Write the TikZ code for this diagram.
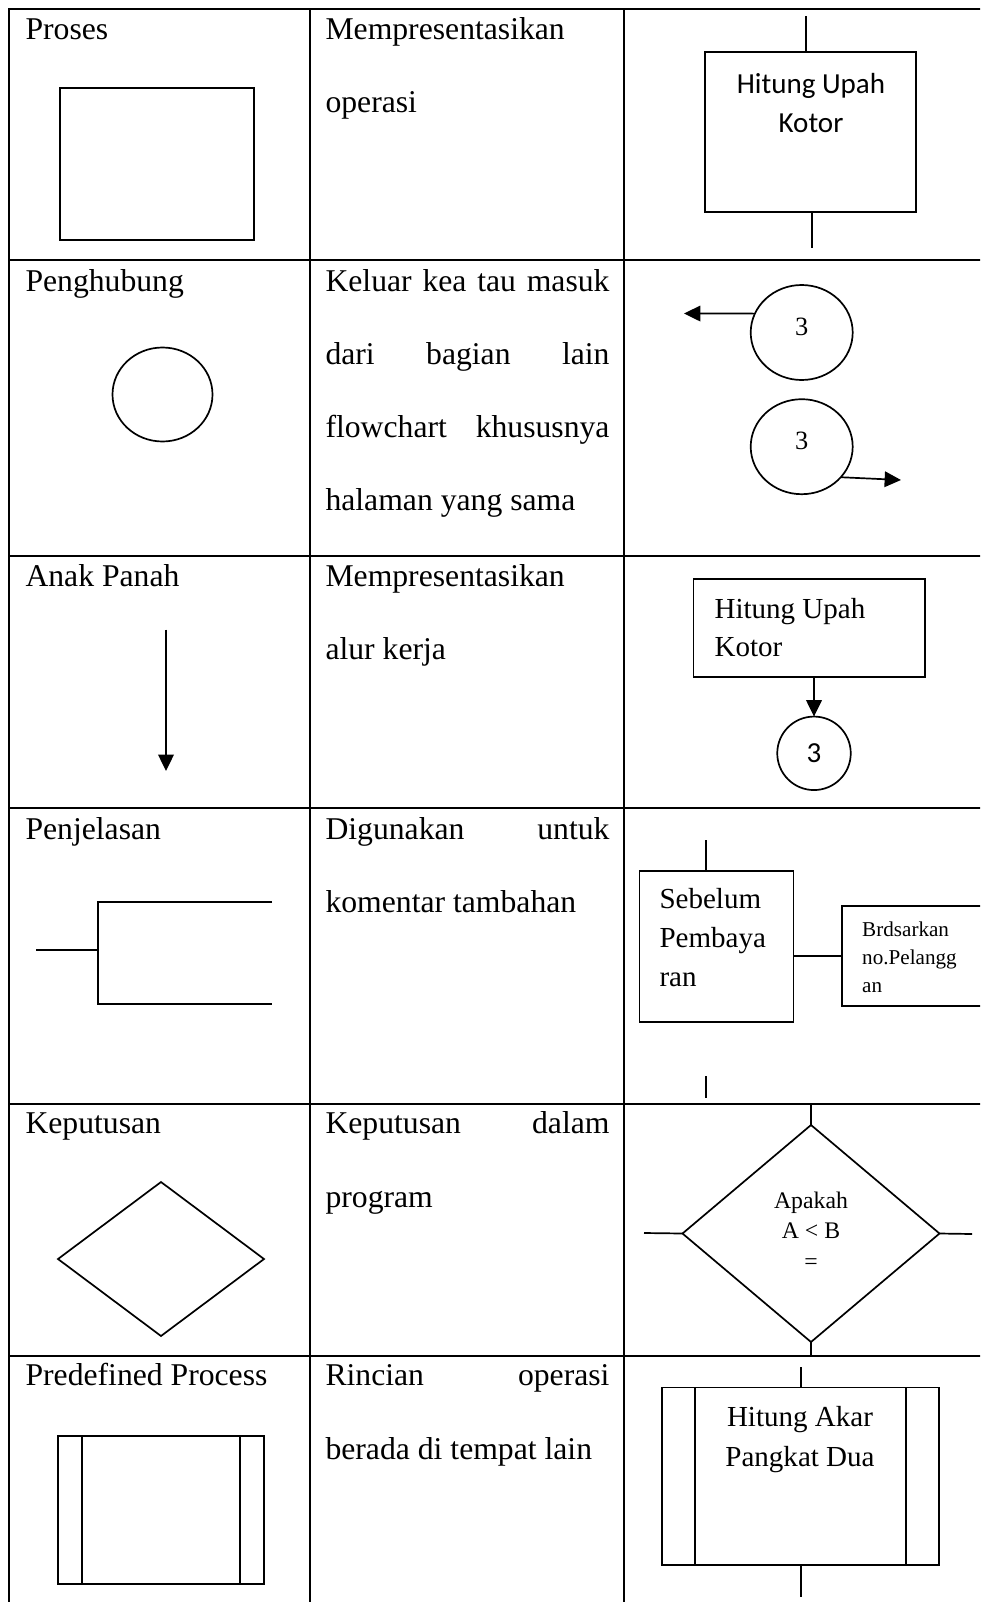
\documentclass[tikz,border=0pt]{standalone}
\usepackage{fontspec}
\setmainfont{Liberation Serif}
\newfontfamily\calibri{Carlito}
\usetikzlibrary{shapes.geometric, arrows.meta}
\newdimen\pxu
\pxu=0.3788pt

\begin{document}
\begin{tikzpicture}[
	x=0.3788pt, y=-0.3788pt,
	rule/.style={line width=2.7*\pxu, line cap=rect},
	symbol/.style={draw, line width=1.7*\pxu, inner sep=0pt, outer sep=0pt},
	link/.style={line width=1.7*\pxu},
	flow/.style={link, -{Triangle[length=6.2pt, width=5.9pt]}},
	celltext/.style={font=\fontsize{12}{14}\selectfont, inner sep=0pt, anchor=base west},
	boxtext/.style={inner sep=0pt, anchor=base},
	numtext/.style={font=\fontsize{10}{12}\selectfont, inner sep=0pt},
]
\useasboundingbox (0,0) rectangle (980,1602);
\clip (0,0) rectangle (980,1602);
% Justified line in the description column.
\def\fullline(#1)#2#3{
	\node[celltext] (#1) at (325,#2) {\makebox[284\pxu][s]{#3}};
}
\def\plainline(#1)#2#3{
	\node[celltext] (#1) at (325,#2) {#3};
}
% Input 1: width of the side bands.
\def\predefbox#1[#2](#3)#4{
	\node[symbol, rectangle, #2] (#3) at (#4) {};
	\draw[link] ([xshift=#1]#3.north west) -- ([xshift=#1]#3.south west);
	\draw[link] ([xshift=-#1]#3.north east) -- ([xshift=-#1]#3.south east);
}
	% table
	\foreach \y in {9,260,556,808,1104,1356}
		\draw[rule] (9,\y) -- (990,\y);
	\foreach \x in {9,310,624}
		\draw[rule] (\x,9) -- (\x,1610);

	\foreach \txt/\y [count=\i] in {Proses/39, Penghubung/291, Anak Panah/586,
		Penjelasan/839, Keputusan/1133, Predefined Process/1385}
		\node[celltext] (name\i) at (25,\y) {\txt};

	\plainline(descA1){39}{Mempresentasikan}
	\plainline(descA2){112}{operasi}
	\fullline(descB1){291}{Keluar kea tau masuk}
	\fullline(descB2){364}{dari bagian lain}
	\fullline(descB3){437}{flowchart khususnya}
	\plainline(descB4){510}{halaman yang sama}
	\plainline(descC1){586}{Mempresentasikan}
	\plainline(descC2){659}{alur kerja}
	\fullline(descD1){839}{Digunakan untuk}
	\plainline(descD2){912}{komentar tambahan}
	\fullline(descE1){1133}{Keputusan dalam}
	\plainline(descE2){1207}{program}
	\fullline(descF1){1385}{Rincian operasi}
	\plainline(descF2){1459}{berada di tempat lain}

	% Proses
	\node[symbol, minimum width=194*\pxu, minimum height=152*\pxu] (procbox) at (157,164) {};
	\node[symbol, minimum width=211*\pxu, minimum height=160*\pxu] (upahA) at (810.5,131.7) {};
	\node[boxtext, font=\calibri\fontsize{11}{14.8}\selectfont] (upahAtext) at (811,93)
		{\begin{tabular}[t]{@{}c@{}}Hitung Upah\\Kotor\end{tabular}};
	\coordinate (upahAin) at (806,16);
	\coordinate (upahAout) at (812,248);
	\draw[link] (upahAin) -- (upahAin |- upahA.north);
	\draw[link] (upahA.south -| upahAout) -- (upahAout);

	% Penghubung
	\node[symbol, ellipse, minimum width=100*\pxu, minimum height=94*\pxu] (penghub) at (162.5,394.5) {};
	\node[symbol, ellipse, minimum width=102*\pxu, minimum height=95*\pxu] (conA) at (801.7,332.5) {};
	\node[numtext] (conAnum) at ([yshift=6*\pxu]conA.center) {3};
	\node[symbol, ellipse, minimum width=102*\pxu, minimum height=95*\pxu] (conB) at (801.7,446.7) {};
	\node[numtext] (conBnum) at ([yshift=6*\pxu]conB.center) {3};
	\coordinate (exitA) at (684,313.5);
	\coordinate (exitB) at (901,480);
	\draw[flow] (conA.158) -- (exitA);
	\draw[flow] (conB.322) -- (exitB);

	% Anak Panah
	\coordinate (flowtop) at (166,629.5);
	\coordinate (flowbot) at (166,771);
	\draw[flow] (flowtop) -- (flowbot);
	\node[symbol, minimum width=231.7*\pxu, minimum height=98*\pxu] (upahB) at (809.2,628.3) {};
	\node[boxtext, anchor=base west, font=\fontsize{11}{14.4}\selectfont] (upahBtext) at (714,618)
		{\begin{tabular}[t]{@{}l@{}}Hitung Upah\\Kotor\end{tabular}};
	\node[symbol, circle, minimum size=73.5*\pxu, font=\calibri\fontsize{11}{13}\selectfont] (conC) at (814,753.3) {3};
	\draw[flow] (upahB.south -| conC.north) -- (conC.north);

	% Penjelasan
	\draw[link] (36,950) -- (98,950);
	\draw[link] (272,902) -| (98,1004) -- (272,1004);
	\node[symbol, minimum width=154*\pxu, minimum height=150.7*\pxu] (sebelum) at (716.5,946.4) {};
	\node[boxtext, anchor=base west, font=\fontsize{11}{14.9}\selectfont] (sebelumtext) at (659,908)
		{\begin{tabular}[t]{@{}l@{}}Sebelum\\Pembaya\\ran\end{tabular}};
	\node[symbol, minimum width=153.3*\pxu, minimum height=100*\pxu] (note) at (918.4,955.7) {};
	\node[boxtext, anchor=base west, font=\fontsize{8}{10.75}\selectfont] (notetext) at (861.7,936)
		{\begin{tabular}[t]{@{}l@{}}Brdsarkan\\no.Pelangg\\an\end{tabular}};
	\coordinate (sebIn) at (706,840);
	\coordinate (sebOutA) at (706,1076);
	\coordinate (sebOutB) at (706,1098);
	\draw[link] (sebIn) -- (sebIn |- sebelum.north);
	\draw[link] (sebelum.east |- note.west) -- (note.west);
	\draw[link] (sebOutA) -- (sebOutB);

	% Keputusan
	\node[symbol, diamond, minimum width=206*\pxu, minimum height=154*\pxu] (decA) at (161,1259) {};
	\node[symbol, diamond, minimum width=257*\pxu, minimum height=217*\pxu] (decB) at (811,1233.5) {};
	\node[boxtext, font=\fontsize{9}{11.7}\selectfont] (decBtext) at (811,1208)
		{\begin{tabular}[t]{@{}c@{}}Apakah\\A < B\\=\end{tabular}};
	\coordinate (decIn) at (811,1104);
	\coordinate (decOut) at (811,1356);
	\coordinate (decLeft) at (644,1233);
	\coordinate (decRight) at (972,1234);
	\draw[link] (decIn) -- (decB.north);
	\draw[link] (decB.south) -- (decOut);
	\draw[link] (decLeft) -- (decB.west);
	\draw[link] (decB.east) -- (decRight);

	% Predefined Process
	\predefbox{24*\pxu}[minimum width=206*\pxu, minimum height=148*\pxu](preA){161,1510}
	\predefbox{33*\pxu}[minimum width=277.6*\pxu, minimum height=177.7*\pxu](preB){800.5,1476.2}
	\node[boxtext, font=\fontsize{11}{14.9}\selectfont] (preBtext) at (800,1426.7)
		{\begin{tabular}[t]{@{}c@{}}Hitung Akar\\Pangkat Dua\end{tabular}};
	\coordinate (preIn) at (801,1367);
	\coordinate (preOut) at (801,1597);
	\draw[link] (preIn) -- (preIn |- preB.north);
	\draw[link] (preB.south -| preOut) -- (preOut);
\end{tikzpicture}
\end{document}
